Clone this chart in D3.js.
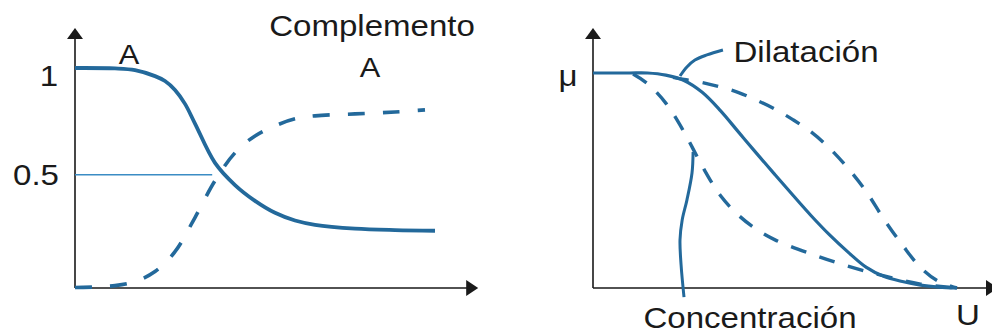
<!DOCTYPE html>
<html>
<head>
<meta charset="utf-8">
<script src="https://cdn.jsdelivr.net/npm/d3@7"></script>
<style>
  html, body { margin: 0; padding: 0; background: #fff; }
  svg { display: block; }
  text { font-family: "Liberation Sans", Arial, sans-serif; fill: #1a1a1a; }
</style>
</head>
<body>
<svg id="chart" width="992" height="335"></svg>
<script>
// ---- Left panel: membership of A and its complement ----
const aX = [0, 1, 1.5, 2, 2.25, 2.5, 2.75, 3, 3.5, 4, 4.5, 5, 5.5, 6, 7, 8, 9];
const aY = [1.0, 0.998, 0.99, 0.962, 0.939, 0.897, 0.832, 0.74, 0.556, 0.452, 0.378, 0.322, 0.286, 0.266, 0.248, 0.241, 0.238];
const compX = [0, 1, 1.5, 2, 2.5, 3, 3.5, 4, 4.5, 5, 5.5, 6, 7, 8, 8.75];
const compY = [-0.028, -0.019, 0, 0.047, 0.14, 0.30, 0.472, 0.603, 0.682, 0.729, 0.762, 0.776, 0.785, 0.794, 0.804];
const leftTicks = [1, 0.5];
const leftTickLabels = ["1", "0.5"];
const halfLevel = 0.5;
const halfLineEnd = 3.43;

// ---- Right panel: base set, dilation and concentration ----
const uX = [0, 1, 1.5, 2, 2.5, 3, 3.5, 4, 4.5, 5, 5.5, 6, 6.5, 7, 7.5, 8, 8.5, 9, 9.5, 10];
const muBase = [1, 1, 1, 0.99, 0.965, 0.91, 0.825, 0.725, 0.625, 0.527, 0.43, 0.335, 0.247, 0.168, 0.097, 0.053, 0.03, 0.013, 0.004, 0];
const dilX = [2.2, 2.5, 3, 3.5, 4, 4.5, 5, 5.5, 6, 6.5, 7, 7.5, 8, 8.5, 9, 9.5, 10];
const muDil = [0.98, 0.97, 0.956, 0.935, 0.909, 0.873, 0.832, 0.782, 0.725, 0.65, 0.558, 0.45, 0.318, 0.2, 0.095, 0.03, 0];
const conX = [1.1, 1.5, 2, 2.5, 3, 3.5, 4, 4.5, 5, 6, 7, 8, 9, 10];
const muCon = [0.995, 0.95, 0.86, 0.726, 0.567, 0.43, 0.338, 0.272, 0.224, 0.158, 0.102, 0.056, 0.018, 0];
// leader lines from the labels to the curves
const dilLeaderX = [2.39, 2.58, 2.8, 3.13, 3.57];
const dilLeaderY = [0.986, 1.028, 1.06, 1.084, 1.107];
const conLeaderX = [2.75, 2.72, 2.58, 2.45, 2.39, 2.42, 2.5];
const conLeaderY = [0.633, 0.535, 0.409, 0.316, 0.223, 0.107, -0.042];

const BLUE = "#23699b";
const LIGHT = "#3b8cc4";
const AXIS = "#1a1a1a";
const STRETCH = 1.14;

const svg = d3.select("#chart");
const zip = (xs, ys) => xs.map((x, i) => [x, ys[i]]);

function label(g, str, cx, baseline, size) {
  return g.append("text")
    .attr("transform", `translate(${cx},${baseline}) scale(${STRETCH},1)`)
    .attr("text-anchor", "middle")
    .style("font-size", (size || 29) + "px")
    .text(str);
}

function axes(g, x0, y0, xTip, yTip) {
  g.append("path")
    .attr("d", `M${x0},${y0}V${yTip + 8}M${x0},${y0}H${xTip - 8}`)
    .attr("stroke", AXIS).attr("stroke-width", 1.6).attr("fill", "none");
  // arrowheads
  g.append("path")
    .attr("d", `M${x0},${yTip}L${x0 - 8},${yTip + 11}L${x0 + 8},${yTip + 11}Z`)
    .attr("fill", AXIS);
  g.append("path")
    .attr("d", `M${xTip},${y0}L${xTip - 12},${y0 - 8}L${xTip - 12},${y0 + 8}Z`)
    .attr("fill", AXIS);
}

const smooth = d3.curveCatmullRom.alpha(0.5);

// ---------- Left panel ----------
const xL = d3.scaleLinear().domain([0, 10]).range([75, 475]);
const yL = d3.scaleLinear().domain([-0.03, 1]).range([288, 68]);
const gL = svg.append("g");

axes(gL, xL(0), yL(-0.03), xL(10.08), 28);

gL.append("line")
  .attr("x1", xL(0)).attr("x2", xL(halfLineEnd))
  .attr("y1", yL(halfLevel)).attr("y2", yL(halfLevel))
  .attr("stroke", LIGHT).attr("stroke-width", 1.5);

const lineL = d3.line().x(d => xL(d[0])).y(d => yL(d[1])).curve(smooth);

gL.append("path")
  .attr("d", lineL(zip(compX, compY)))
  .attr("fill", "none").attr("stroke", BLUE).attr("stroke-width", 3.6)
  .attr("stroke-dasharray", "17,18");

gL.append("path")
  .attr("d", lineL(zip(aX, aY)))
  .attr("fill", "none").attr("stroke", BLUE).attr("stroke-width", 3.8);

label(gL, leftTickLabels[0], 49, yL(leftTicks[0]) + 18);
label(gL, leftTickLabels[1], 36, yL(leftTicks[1]) + 10);
label(gL, "A", 129, 64, 27);
label(gL, "Complemento", 372, 36);
label(gL, "A", 370, 77, 27);

// ---------- Right panel ----------
const xR = d3.scaleLinear().domain([0, 10]).range([593, 957]);
const yR = d3.scaleLinear().domain([0, 1]).range([288, 73]);
const gR = svg.append("g");

axes(gR, xR(0), yR(0), 998, 28);

const lineR = d3.line().x(d => xR(d[0])).y(d => yR(d[1])).curve(smooth);

gR.append("path")
  .attr("d", lineR(zip(dilX, muDil)))
  .attr("fill", "none").attr("stroke", BLUE).attr("stroke-width", 3.4)
  .attr("stroke-dasharray", "16,14");

gR.append("path")
  .attr("d", lineR(zip(conX, muCon)))
  .attr("fill", "none").attr("stroke", BLUE).attr("stroke-width", 3.4)
  .attr("stroke-dasharray", "16,14");

gR.append("path")
  .attr("d", lineR(zip(uX, muBase)))
  .attr("fill", "none").attr("stroke", BLUE).attr("stroke-width", 3.2);

gR.append("path")
  .attr("d", lineR(zip(dilLeaderX, dilLeaderY)))
  .attr("fill", "none").attr("stroke", BLUE).attr("stroke-width", 3);

gR.append("path")
  .attr("d", lineR(zip(conLeaderX, conLeaderY)))
  .attr("fill", "none").attr("stroke", BLUE).attr("stroke-width", 3);

label(gR, "μ", 568, 86);
label(gR, "Dilatación", 806, 62);
label(gR, "Concentración", 750, 328);
label(gR, "U", 968, 325);
</script>
</body>
</html>
